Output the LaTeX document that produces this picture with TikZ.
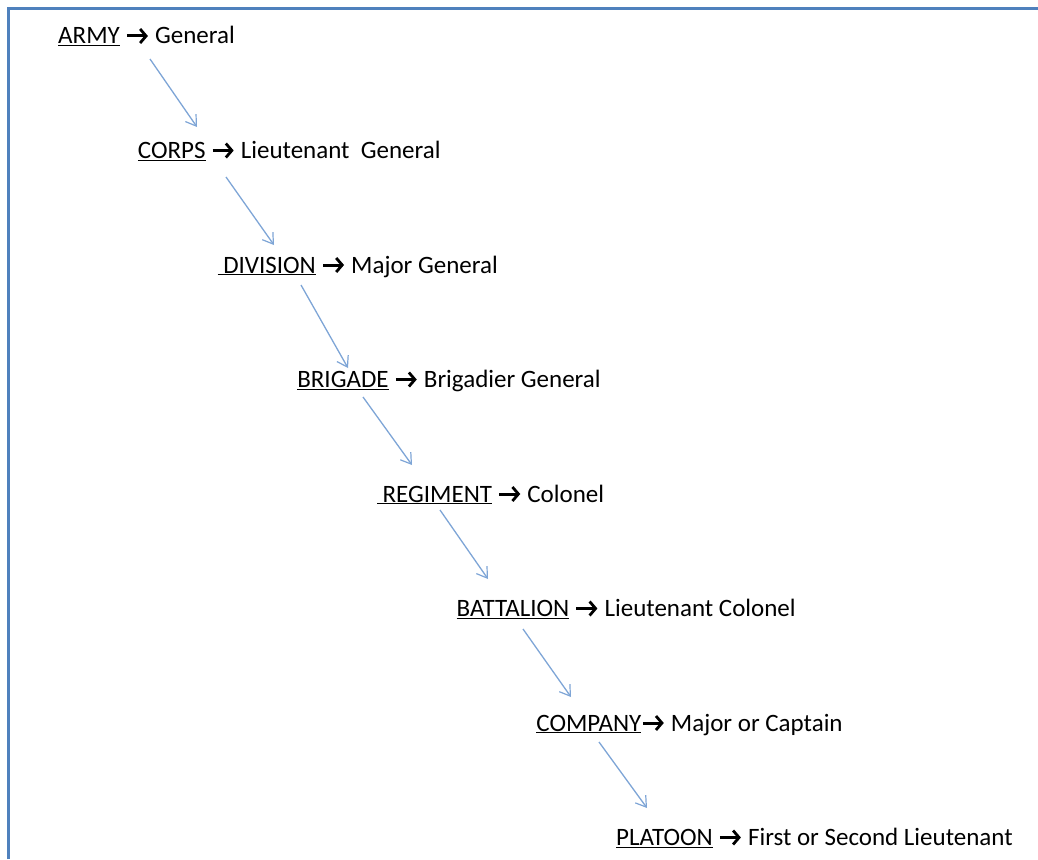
\documentclass[tikz,border=0pt]{standalone}
\usepackage{fontspec}
\setmainfont{Carlito}
\usetikzlibrary{arrows.meta}

\definecolor{frameblue}{HTML}{4F81BD}
\definecolor{linkblue}{HTML}{7EA5D6}

\newcommand{\rankarrow}{\tikz[x=1pt, y=1pt, baseline=-8pt]
  \draw[line width=3pt, -{Straight Barb[length=6pt, width=14pt, line width=2.8pt]}] (0,0) -- (21,0);}

\begin{document}
\begin{tikzpicture}[x=1pt, y=-1pt,
  every node/.style={font=\fontsize{25}{30}\selectfont, inner sep=0pt},
  rankrow/.style={anchor=base west},
  link/.style={linkblue, line width=1.3pt, -{Straight Barb[length=10pt, width=13pt, line width=1.2pt]}}]
  \useasboundingbox (0,0) rectangle (1038,859);

  % Frame
  \draw[frameblue, line width=2.2pt] (8.5,859) -- (8.5,8.5) -- (1038,8.5);

  % Ranks
  \foreach \name/\unit/\rank [count=\i from 0] in {
      army/ARMY/ \rankarrow\ General,
      corps/CORPS/ \rankarrow\ Lieutenant\ \ General,
      division/\ DIVISION/ \rankarrow\ Major General,
      brigade/BRIGADE/ \rankarrow\ Brigadier General,
      regiment/\ REGIMENT/ \rankarrow\ Colonel,
      battalion/BATTALION/ \rankarrow\ Lieutenant Colonel,
      company/COMPANY/\rankarrow\ Major or Captain,
      platoon/PLATOON/ \rankarrow\ First or Second Lieutenant} {
    \node[rankrow] (\name) at ({58+79.7*\i}, {44+114.5*\i}) {\underline{\unit}\rank};
  }

  % Links
  \foreach \sx/\sy/\ex/\ey [count=\i] in {
      150/59/197/127, 226/177/274/245, 301/285/348/368, 363/397/412/465,
      440/510/488/579, 523/629/571/697, 599/742/647/808} {
    \coordinate (s\i) at (\sx,\sy);
    \coordinate (e\i) at (\ex,\ey);
    \draw[link] (s\i) -- (e\i);
  }
\end{tikzpicture}
\end{document}
